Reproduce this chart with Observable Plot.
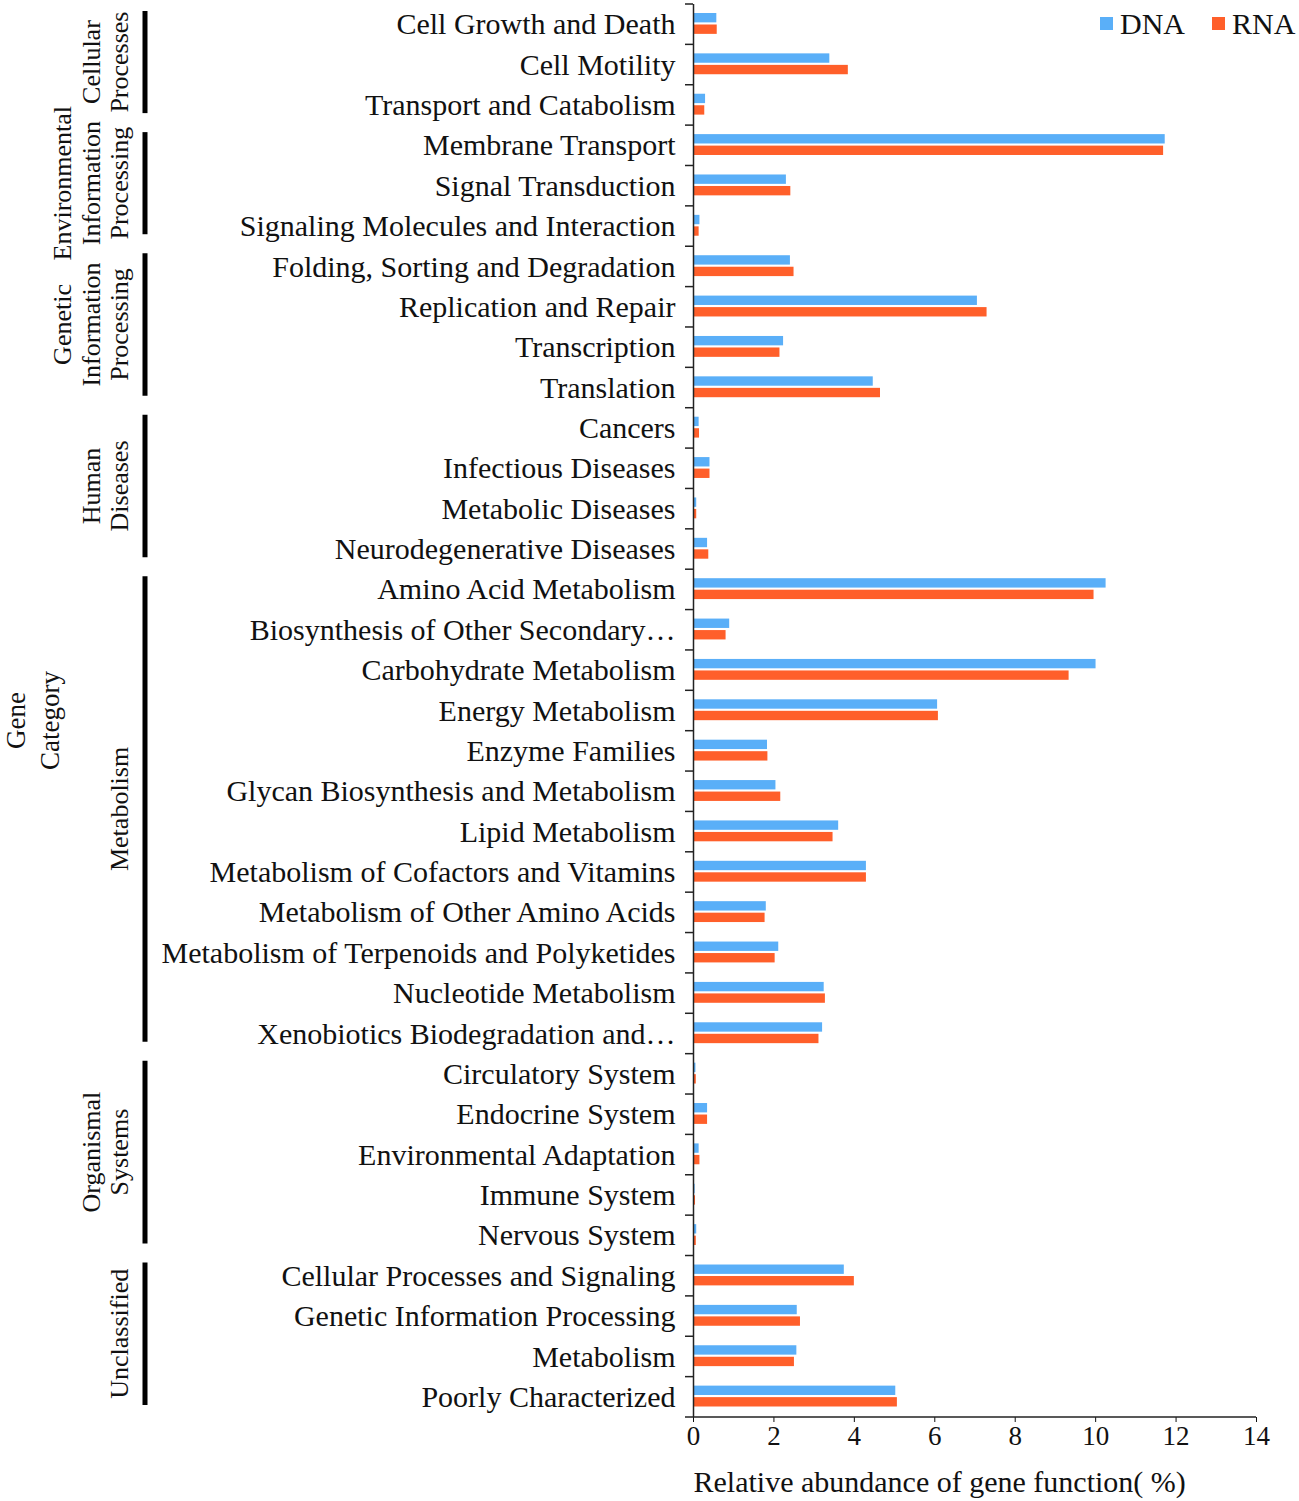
<!DOCTYPE html>
<html><head><meta charset="utf-8">
<script src="https://cdn.jsdelivr.net/npm/d3@7"></script>
<script src="https://cdn.jsdelivr.net/npm/@observablehq/plot@0.6"></script>
<style>body{margin:0;background:#fff} svg{display:block}</style>
</head><body><div id="chart"></div>
<script>
const categories = [
  "Cell Growth and Death","Cell Motility","Transport and Catabolism",
  "Membrane Transport","Signal Transduction","Signaling Molecules and Interaction",
  "Folding, Sorting and Degradation","Replication and Repair","Transcription","Translation",
  "Cancers","Infectious Diseases","Metabolic Diseases","Neurodegenerative Diseases",
  "Amino Acid Metabolism","Biosynthesis of Other Secondary\u2026","Carbohydrate Metabolism","Energy Metabolism",
  "Enzyme Families","Glycan Biosynthesis and Metabolism","Lipid Metabolism","Metabolism of Cofactors and Vitamins",
  "Metabolism of Other Amino Acids","Metabolism of Terpenoids and Polyketides","Nucleotide Metabolism","Xenobiotics Biodegradation and\u2026",
  "Circulatory System","Endocrine System","Environmental Adaptation","Immune System","Nervous System",
  "Cellular Processes and Signaling","Genetic Information Processing","Metabolism","Poorly Characterized"
];
const dnaValues = [
  0.58, 3.39, 0.30,
  11.73, 2.31, 0.16,
  2.41, 7.06, 2.24, 4.47,
  0.14, 0.41, 0.08, 0.35,
  10.26, 0.90, 10.01, 6.07, 1.84, 2.05, 3.61, 4.30, 1.81, 2.12, 3.25, 3.21,
  0.06, 0.35, 0.14, 0.04, 0.08,
  3.75, 2.58, 2.57, 5.03
];
const rnaValues = [
  0.59, 3.85, 0.28,
  11.69, 2.42, 0.14,
  2.50, 7.30, 2.15, 4.65,
  0.15, 0.41, 0.08, 0.38,
  9.96, 0.81, 9.34, 6.09, 1.85, 2.17, 3.47, 4.30, 1.78, 2.03, 3.28, 3.12,
  0.07, 0.35, 0.16, 0.05, 0.07,
  4.00, 2.66, 2.51, 5.07
];
const groupLines = [
  ["Cellular","Processes"],
  ["Environmental","Information","Processing"],
  ["Genetic","Information","Processing"],
  ["Human","Diseases"],
  ["Metabolism"],
  ["Organismal","Systems"],
  ["Unclassified"]
];
const groupSizes = [3, 3, 4, 4, 12, 5, 4];
const seriesNames = ["DNA", "RNA"];
const seriesColors = ["#5aaff8", "#ff5f2a"];
const xTicks = [0, 2, 4, 6, 8, 10, 12, 14];
const xAxisTitle = "Relative abundance of gene function( %)";
const yAxisTitle = ["Gene", "Category"];

const table = [];
categories.forEach((c, i) => {
  table.push({category: c, series: seriesNames[0], value: dnaValues[i]});
  table.push({category: c, series: seriesNames[1], value: rnaValues[i]});
});
const groups = [];
let start = 0;
groupSizes.forEach((n, i) => {
  groups.push({lines: groupLines[i], first: categories[start], last: categories[start + n - 1]});
  start += n;
});

const FONT = "'Liberation Serif', 'Times New Roman', serif";

function decorations(index, scales, values, dimensions) {
  const {width, height, marginLeft, marginRight, marginBottom, marginTop} = dimensions;
  const y = scales.y;
  const step = y(categories[1]) - y(categories[0]);
  const g = d3.create("svg:g").attr("font-family", FONT).attr("fill", "#111");
  const bottom = height - marginBottom;
  // y tick marks at band boundaries
  const bounds = categories.map(c => y(c)).concat([bottom]);
  g.selectAll("line.yt").data(bounds).join("line")
    .attr("x1", marginLeft - 8).attr("x2", marginLeft)
    .attr("y1", d => d).attr("y2", d => d)
    .attr("stroke", "#222").attr("stroke-width", 1.5);
  // x axis line
  g.append("line").attr("x1", marginLeft).attr("x2", width - marginRight)
    .attr("y1", bottom).attr("y2", bottom).attr("stroke", "#222").attr("stroke-width", 1.5);
  // group brackets + labels
  for (const gr of groups) {
    const top = y(gr.first) + 7;
    const bot = y(gr.last) + step - 12;
    g.append("line").attr("x1", 145).attr("x2", 145).attr("y1", top).attr("y2", bot)
      .attr("stroke", "#000").attr("stroke-width", 5);
    const yc = (top + bot) / 2;
    const n = gr.lines.length;
    gr.lines.forEach((t, i) => {
      const xc = 119 - (n - 1 - i) * 28.5;
      g.append("text").attr("transform", `translate(${xc},${yc}) rotate(-90)`)
        .attr("text-anchor", "middle").attr("dy", "0.35em").attr("font-size", 26).text(t);
    });
  }
  // "Gene Category" title
  const ym = (marginTop + bottom) / 2 + 10;
  yAxisTitle.forEach((t, i) => {
    g.append("text").attr("transform", `translate(${16 + i * 34},${ym}) rotate(-90)`)
      .attr("text-anchor", "middle").attr("dy", "0.35em").attr("font-size", 27).text(t);
  });
  // legend
  const lx = [width - 199, width - 87];
  seriesNames.forEach((s, i) => {
    g.append("rect").attr("x", lx[i]).attr("y", 17).attr("width", 13).attr("height", 13)
      .attr("fill", seriesColors[i]);
    g.append("text").attr("x", lx[i] + 20).attr("y", 34).attr("text-anchor", "start")
      .attr("font-size", 30).text(s);
  });
  return g.node();
}

const chart = Plot.plot({
  width: 1299,
  height: 1501,
  marginLeft: 693,
  marginRight: 43,
  marginTop: 4,
  marginBottom: 84,
  style: {fontFamily: FONT, background: "#fff", color: "#111"},
  x: {domain: [0, 14]},
  y: {domain: categories, padding: 0, round: false},
  marks: [
    Plot.barX(table.filter(d => d.series === seriesNames[0]), {
      x: "value", y: "category", fill: seriesColors[0], insetTop: 9, insetBottom: 22
    }),
    Plot.barX(table.filter(d => d.series === seriesNames[1]), {
      x: "value", y: "category", fill: seriesColors[1], insetTop: 20.5, insetBottom: 10.5
    }),
    Plot.ruleX([0], {stroke: "#222", strokeWidth: 1.5}),
    Plot.axisY({tickSize: 0, tickPadding: 18, fontSize: 30, label: null, fill: "#111"}),
    Plot.axisX({ticks: xTicks, tickSize: 5, tickPadding: 3, fontSize: 27, label: null, fill: "#111"}),
    Plot.text([xAxisTitle], {frameAnchor: "bottom-left", dy: 65, textAnchor: "start", fontSize: 30, lineAnchor: "middle", fill: "#111"}),
    decorations
  ]
});
document.getElementById("chart").appendChild(chart);
</script>
</body></html>
